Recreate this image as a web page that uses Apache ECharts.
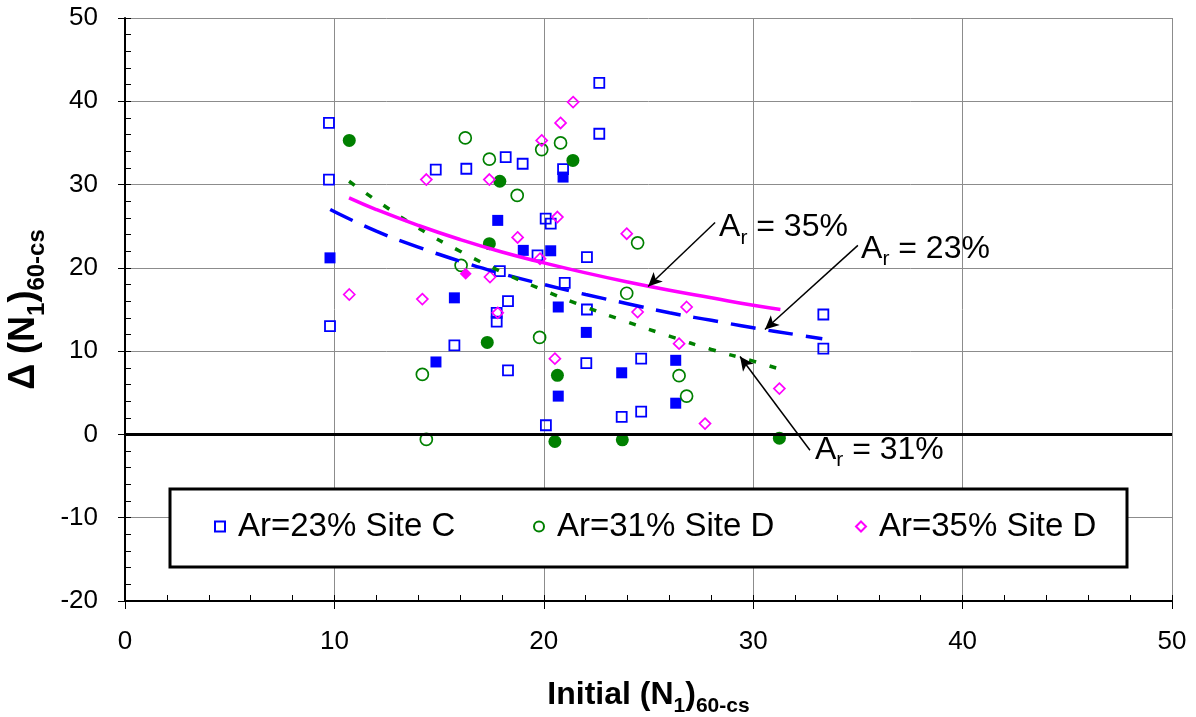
<!DOCTYPE html>
<html>
<head>
<meta charset="utf-8">
<script src="https://cdn.jsdelivr.net/npm/echarts@6/dist/echarts.min.js"></script>
<style>
  html, body { margin: 0; padding: 0; background: #fff; }
  #chart { width: 1196px; height: 717px; }
</style>
</head>
<body>
<div id="chart"></div>
<script>
// ---- data: [initial (N1)60-cs, change in (N1)60-cs] ----
const siteC23Open = [
  [9.74, 37.4], [9.74, 30.6], [9.79, 13.0], [14.84, 31.8], [16.3, 31.9], [18.18, 33.3],
  [18.99, 32.5], [22.65, 42.2], [22.65, 36.1], [20.92, 31.85], [20.09, 25.9], [20.33, 25.3],
  [19.7, 21.5], [22.06, 21.3], [17.9, 19.6], [21.0, 18.2], [18.29, 16.0], [17.75, 14.6],
  [17.75, 13.55], [22.06, 15.0], [15.73, 10.7], [18.29, 7.7], [22.03, 8.55], [24.65, 9.1],
  [23.72, 2.1], [24.65, 2.75], [20.1, 1.1], [33.35, 14.4], [33.35, 10.3]
];
const siteC23Solid = [
  [9.79, 21.2], [17.8, 25.7], [20.92, 30.9], [20.33, 22.05], [19.02, 22.1], [15.73, 16.4],
  [14.85, 8.7], [20.69, 15.3], [22.03, 12.25], [23.72, 7.4], [26.3, 8.9], [20.69, 4.6], [26.3, 3.75]
];
const siteD31Open = [
  [16.25, 35.6], [17.4, 33.05], [20.8, 35.0], [19.9, 34.2], [18.73, 28.7], [24.48, 23.0],
  [16.05, 20.3], [23.96, 16.95], [19.8, 11.65], [14.2, 7.2], [26.46, 7.05], [26.82, 4.6], [14.39, -0.6]
];
const siteD31Solid = [
  [10.71, 35.3], [17.4, 22.9], [17.9, 30.4], [21.39, 32.9], [17.3, 11.05], [20.65, 7.1],
  [20.53, -0.85], [23.75, -0.65], [31.25, -0.45]
];
const siteD35Open = [
  [14.39, 30.6], [17.4, 30.6], [21.4, 39.9], [20.8, 37.4], [19.9, 35.3], [20.65, 26.1],
  [18.75, 23.65], [23.96, 24.1], [19.82, 21.1], [17.43, 18.9], [10.71, 16.8], [14.2, 16.25],
  [17.8, 14.6], [24.48, 14.7], [26.82, 15.3], [26.46, 10.9], [20.53, 9.1], [31.25, 5.5], [27.7, 1.3]
];
const siteD35Solid = [[16.27, 19.3]];

// trend curves for each replacement ratio
const trend23 = [[9.8, 27.0], [12, 24.4], [14, 22.5], [16, 20.8], [18, 19.3], [20, 18.0], [22, 16.8],
  [24, 15.7], [26, 14.6], [28, 13.7], [30, 12.8], [32, 12.0], [33.3, 11.5]];
const trend31 = [[10.7, 30.4], [12, 28.1], [14, 24.8], [16, 22.0], [18, 19.5], [20, 17.3], [22, 15.3],
  [24, 13.5], [26, 11.8], [28, 10.2], [30, 8.8], [31.2, 7.9]];
const trend35 = [[10.7, 28.4], [12, 27.0], [14, 25.1], [16, 23.4], [18, 21.9], [20, 20.6], [22, 19.4],
  [24, 18.3], [26, 17.3], [28, 16.4], [30, 15.5], [31.3, 15.0]];

// annotation callouts: label anchor (left, middle) and arrow start/end in data units
const calloutLabels = ['35%', '23%', '31%'];
const calloutText = [[28.37, 24.9], [35.15, 22.3], [32.95, -1.8]];
const calloutArrows = [
  [[28.18, 25.45], [24.98, 17.77]],
  [[35.0, 22.7], [30.56, 12.6]],
  [[32.71, -1.9], [29.37, 9.36]]
];

const legendNames = ['Ar=23% Site C', 'Ar=31% Site D', 'Ar=35% Site D'];

// ---- chart ----
const FONT = '"Liberation Sans", Arial, Helvetica, sans-serif';
const BLUE = '#0000FF', GREEN = '#008000', MAGENTA = '#FF00FF';
const HOLLOW = 'rgba(255,255,255,0)';

function subRich(mainSize, subSize, weight, drop) {
  return {
    m: { fontSize: mainSize, fontWeight: weight, fontFamily: FONT, color: '#000', verticalAlign: 'top' },
    s: { fontSize: subSize, fontWeight: weight, fontFamily: FONT, color: '#000', verticalAlign: 'top', padding: [drop, 0, 0, 0] }
  };
}

function scatter(name, data, symbol, size, fill, stroke, bw) {
  return {
    name, type: 'scatter', data, symbol, symbolSize: size,
    itemStyle: { color: fill, borderColor: stroke, borderWidth: bw, opacity: 1 },
    emphasis: { disabled: true }, z: 3
  };
}

function trend(name, data, color, width, dash) {
  return {
    name, type: 'line', data, smooth: true, showSymbol: false, symbol: 'none',
    lineStyle: { color, width, type: dash, cap: 'butt' },
    emphasis: { disabled: true }, z: 4
  };
}

const chart = echarts.init(document.getElementById('chart'));

const axisLabelStyle = { fontSize: 26, fontFamily: FONT, color: '#000' };

const series = [
  scatter(legendNames[0], siteC23Open, 'rect', 10, HOLLOW, BLUE, 1.8),
  scatter('Site C 23% solid', siteC23Solid, 'rect', 11, BLUE, BLUE, 0),
  scatter(legendNames[1], siteD31Open, 'circle', 12, HOLLOW, GREEN, 1.7),
  scatter('Site D 31% solid', siteD31Solid, 'circle', 13, GREEN, GREEN, 0),
  scatter(legendNames[2], siteD35Open, 'diamond', 11, HOLLOW, MAGENTA, 1.7),
  scatter('Site D 35% solid', siteD35Solid, 'diamond', 12, MAGENTA, MAGENTA, 0),
  trend('Ar 23% trend', trend23, BLUE, 3.5, [25, 13]),
  trend('Ar 31% trend', trend31, GREEN, 3.5, [7, 14]),
  trend('Ar 35% trend', trend35, MAGENTA, 3.5, 'solid')
];

// zero reference line
series[0].markLine = {
  silent: true, symbol: 'none', animation: false,
  label: { show: false },
  lineStyle: { color: '#000', width: 3, type: 'solid' },
  data: [{ yAxis: 0 }]
};
// callout arrows
series[8].markLine = {
  silent: true, symbol: ['none', 'arrow'], symbolSize: [10, 14], animation: false,
  label: { show: false },
  lineStyle: { color: '#000', width: 1.5, type: 'solid' },
  data: calloutArrows.map(a => [{ coord: a[0] }, { coord: a[1] }])
};

const legendBase = {
  orient: 'horizontal', padding: 0, itemWidth: 10, itemHeight: 10, top: 510, z: 10,
  selectedMode: false,
  textStyle: { fontSize: 33, fontFamily: FONT, color: '#000', padding: [0, 0, 0, 8] }
};

const option = {
  animation: false,
  backgroundColor: '#fff',
  grid: { left: 125, right: 24, top: 18, bottom: 116, containLabel: false, outerBoundsMode: 'none' },
  xAxis: [
    {
      type: 'value', min: 0, max: 50, interval: 10, position: 'bottom',
      axisLine: { show: true, onZero: false, lineStyle: { color: '#000', width: 2 } },
      axisTick: { show: true, inside: false, length: 8, lineStyle: { color: '#000', width: 1 } },
      axisLabel: Object.assign({ margin: 28 }, axisLabelStyle),
      splitLine: { show: true, lineStyle: { color: '#8c8c8c', width: 1 } },
      name: '{m|Initial (N}{s|1}{m|)}{s|60-cs}',
      nameLocation: 'middle', nameGap: 78,
      nameTextStyle: { rich: subRich(32, 21, 'bold', 17) }
    },
    {
      type: 'value', min: 0, max: 50, interval: 2, position: 'bottom',
      axisLine: { show: false, onZero: false },
      axisTick: { show: true, inside: true, length: 6, lineStyle: { color: '#000', width: 1 } },
      axisLabel: { show: false }, splitLine: { show: false }
    }
  ],
  yAxis: [
    {
      type: 'value', min: -20, max: 50, interval: 10, position: 'left',
      axisLine: { show: true, onZero: false, lineStyle: { color: '#000', width: 2 } },
      axisTick: { show: true, inside: false, length: 7, lineStyle: { color: '#000', width: 1 } },
      axisLabel: Object.assign({ margin: 27 }, axisLabelStyle),
      splitLine: { show: true, lineStyle: { color: '#8c8c8c', width: 1 } },
      name: '{m|Δ (N}{s|1}{m|)}{s|60-cs}',
      nameLocation: 'middle', nameGap: 70, nameRotate: 90,
      nameTextStyle: { rich: subRich(36, 24, 'bold', 19) }
    },
    {
      type: 'value', min: -20, max: 50, interval: 2, position: 'left',
      axisLine: { show: false, onZero: false },
      axisTick: { show: true, inside: true, length: 6, lineStyle: { color: '#000', width: 1 } },
      axisLabel: { show: false }, splitLine: { show: false }
    }
  ],
  legend: [
    Object.assign({ data: [legendNames[0]], left: 214 }, legendBase),
    Object.assign({ data: [legendNames[1]], left: 533 }, legendBase),
    Object.assign({ data: [legendNames[2]], left: 855 }, legendBase)
  ],
  graphic: [
    {
      type: 'rect', id: 'legendBox', z: 3,
      shape: { x: 170, y: 489, width: 957, height: 78 },
      style: { fill: '#fff', stroke: '#000', lineWidth: 3 }
    }
  ],
  series
};

chart.setOption(option);

// callout labels placed at their data-space anchors
const labelRich = subRich(32, 21, 'normal', 16);
chart.setOption({
  graphic: calloutText.map((pt, i) => {
    const p = chart.convertToPixel({ gridIndex: 0 }, pt);
    return {
      type: 'text', id: 'callout' + i, z: 10,
      x: p[0], y: p[1] + 3,
      style: {
        text: '{m|A}{s|r}{m| = ' + calloutLabels[i] + '}',
        rich: labelRich, align: 'left', verticalAlign: 'middle'
      }
    };
  })
});
</script>
</body>
</html>
